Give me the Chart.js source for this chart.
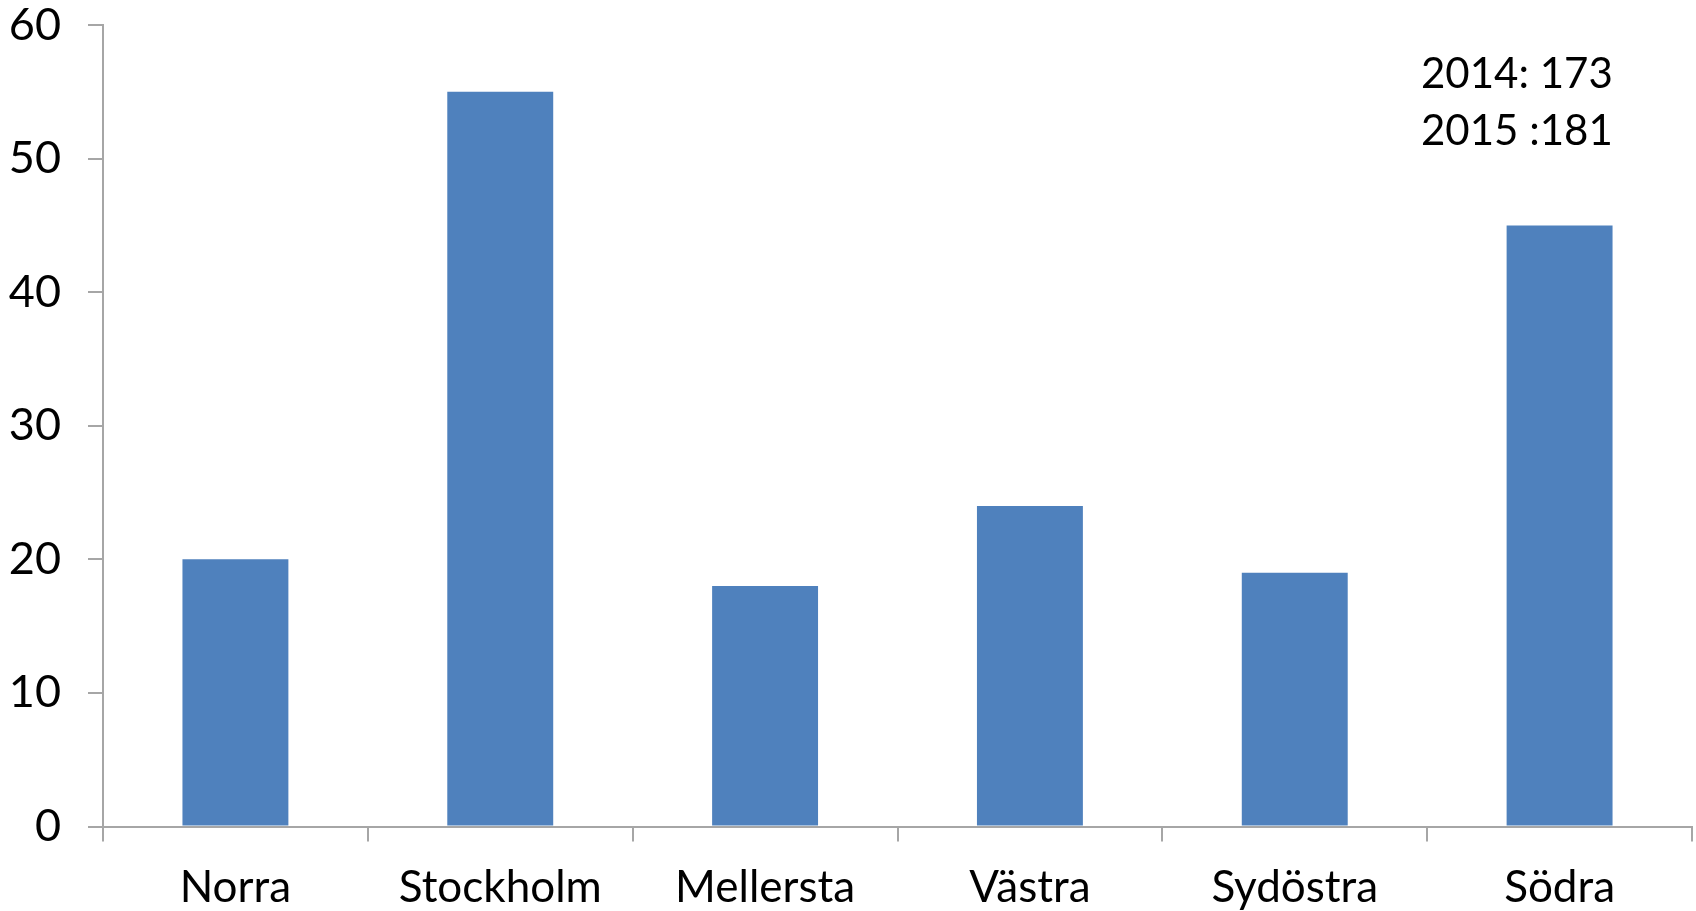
<!DOCTYPE html>
<html>
<head>
<meta charset="utf-8">
<script src="https://cdn.jsdelivr.net/npm/chart.js@4"></script>
<style>
  html, body { margin: 0; padding: 0; background: #fff; }
  #wrap { width: 1696px; height: 911px; }
</style>
</head>
<body>
<div id="wrap"><canvas id="chart"></canvas></div>
<script>
// regioner och värden
const regions = ["Norra", "Stockholm", "Mellersta", "Västra", "Sydöstra", "Södra"];
const counts = [20, 55, 18, 24, 19, 45];
const noteLines = ["2014: 173", "2015 :181"];

const axisColor = "#a6a6a6";
const fontFamily = "Lato, 'Open Sans', sans-serif";

// skriver totalsiffrorna uppe till höger
const notePlugin = {
  id: "note",
  afterDraw(chart) {
    const ctx = chart.ctx;
    ctx.save();
    ctx.fillStyle = "#000";
    ctx.font = "42px " + fontFamily;
    ctx.textBaseline = "middle";
    ctx.textAlign = "left";
    for (let i = 0; i < noteLines.length; i++) {
      ctx.fillText(noteLines[i], 1421, 74 + i * 57);
    }
    ctx.restore();
  },
};

new Chart(document.getElementById("chart"), {
  type: "bar",
  data: {
    labels: regions,
    datasets: [
      {
        data: counts,
        backgroundColor: "#4f81bd",
        categoryPercentage: 1,
        barPercentage: 0.4,
      },
    ],
  },
  options: {
    responsive: true,
    maintainAspectRatio: false,
    animation: false,
    layout: { padding: { top: 25, right: 4, left: 0, bottom: 0 } },
    plugins: {
      legend: { display: false },
      tooltip: { enabled: false },
    },
    scales: {
      x: {
        offset: true,
        grid: {
          offset: true,
          drawOnChartArea: false,
          drawTicks: true,
          tickLength: 15,
          color: axisColor,
          lineWidth: 2,
        },
        border: { color: axisColor, width: 2 },
        ticks: {
          color: "#000",
          padding: 20,
          font: { family: fontFamily, size: 44 },
          maxRotation: 0,
        },
        afterFit(scale) {
          scale.height = 84.5;
          scale.paddingLeft = 0;
          scale.paddingRight = 0;
        },
      },
      y: {
        min: 0,
        max: 60,
        grid: {
          drawOnChartArea: false,
          drawTicks: true,
          tickLength: 15,
          color: axisColor,
          lineWidth: 2,
        },
        border: { color: axisColor, width: 2 },
        ticks: {
          stepSize: 10,
          color: "#000",
          padding: 27,
          font: { family: fontFamily, size: 45, lineHeight: 1 },
        },
        afterFit(scale) {
          scale.width = 103;
          scale.paddingTop = 0;
          scale.paddingBottom = 0;
        },
      },
    },
  },
  plugins: [notePlugin],
});
</script>
</body>
</html>
